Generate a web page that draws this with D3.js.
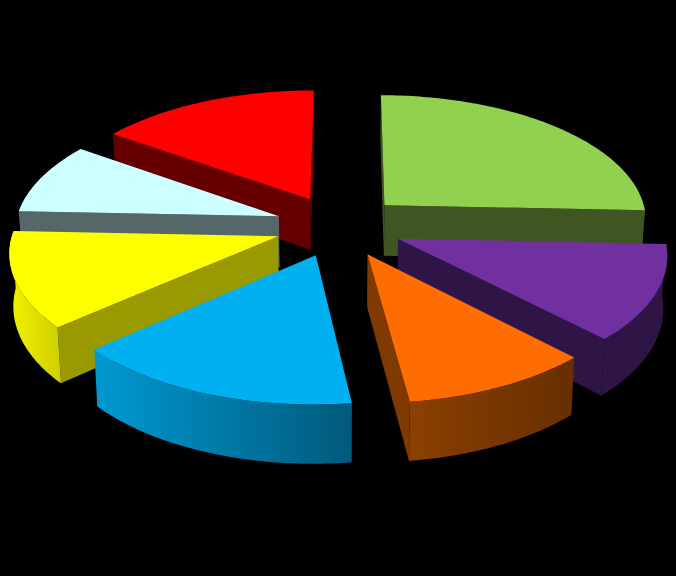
<!DOCTYPE html>
<html>
<head>
<meta charset="utf-8">
<script src="https://cdn.jsdelivr.net/npm/d3@7"></script>
<style>
  html, body { margin: 0; background: #000; }
  svg { display: block; }
</style>
</head>
<body>
<svg id="chart" width="676" height="576"></svg>
<script>
// slices, clockwise from the top
const categories = ['green', 'purple', 'orange', 'blue', 'yellow', 'cyan', 'red'];
const values = [25.6, 12.1, 10.2, 15.6, 12.1, 9.1, 15.3];

const topColors = ['#92d050', '#7030a0', '#ff6c00', '#00b0f0', '#ffff00', '#ccffff', '#ff0000'];
const wallColors = ['#3f5522', '#2f1545', '#7e3a00', '#00607f', '#999900', '#566769', '#660000'];
const outerLeft = ['#3f5522', '#2f1545', '#8a4000', '#0099d1', '#f2f200', '#566769', '#660000'];
const outerRight = ['#3f5522', '#2f1545', '#682e00', '#005a7c', '#d2d200', '#566769', '#660000'];

const width = 676, height = 576;
const cx = 339, cy = 226;
const radius = 264, explode = 64, depth = 51.5;
const tilt = 0.478, persp = 0.000409, converge = 0.012;
const startDeg = 0.2;

// pie plane -> screen, z is 0 on top and 1 at the bottom
function project(u, v, z) {
  const s = 1 / (1 - persp * v);
  return [
    cx + u * s * (1 - converge * z),
    cy + (tilt * v + depth * z) * s,
  ];
}

const line = d3.line();
const svg = d3.select('#chart');
const defs = svg.append('defs');

const start = (startDeg * Math.PI) / 180;
const pie = d3.pie().sort(null).startAngle(start).endAngle(start + 2 * Math.PI);
const slices = pie(values).map((d, i) => {
  const mid = (d.startAngle + d.endAngle) / 2;
  return {
    ...d,
    i,
    mid,
    ox: explode * Math.sin(mid),
    oy: -explode * Math.cos(mid),
  };
});

function arcPoints(d, a0, a1, z) {
  const n = Math.max(2, Math.ceil((a1 - a0) * 60));
  return d3.range(n + 1).map((k) => {
    const a = a0 + ((a1 - a0) * k) / n;
    return project(d.ox + radius * Math.sin(a), d.oy - radius * Math.cos(a), z);
  });
}

// back slices first so the front ones cover them
slices
  .slice()
  .sort((a, b) => -Math.cos(a.mid) - -Math.cos(b.mid))
  .forEach((d) => {
    const g = svg.append('g').attr('class', categories[d.i]);
    const apexTop = project(d.ox, d.oy, 0);
    const apexBottom = project(d.ox, d.oy, 1);

    // the two straight walls, only when they face us
    [d.startAngle, d.endAngle].forEach((a, side) => {
      const edgeTop = arcPoints(d, a, a + 0.001, 0)[0];
      const edgeBottom = arcPoints(d, a, a + 0.001, 1)[0];
      const pts = [apexTop, edgeTop, edgeBottom, apexBottom];
      const facing = side === 0 ? d3.polygonArea(pts) > 0 : d3.polygonArea(pts) < 0;
      if (facing) {
        g.append('path')
          .attr('d', line(pts) + 'Z')
          .attr('fill', wallColors[d.i]);
      }
    });

    // rim, front half of the circle only
    const a0 = Math.max(d.startAngle, Math.PI / 2);
    const a1 = Math.min(d.endAngle, (3 * Math.PI) / 2);
    if (a1 > a0) {
      const rimTop = arcPoints(d, a0, a1, 0);
      const rimBottom = arcPoints(d, a0, a1, 1).reverse();
      const xs = d3.extent(rimTop, (p) => p[0]);
      const gradId = `rim-${d.i}`;
      const grad = defs
        .append('linearGradient')
        .attr('id', gradId)
        .attr('gradientUnits', 'userSpaceOnUse')
        .attr('x1', xs[0])
        .attr('x2', xs[1])
        .attr('y1', 0)
        .attr('y2', 0);
      grad.append('stop').attr('offset', 0).attr('stop-color', outerLeft[d.i]);
      grad.append('stop').attr('offset', 1).attr('stop-color', outerRight[d.i]);
      g.append('path')
        .attr('d', line(rimTop.concat(rimBottom)) + 'Z')
        .attr('fill', `url(#${gradId})`);
    }

    // top face
    g.append('path')
      .attr('d', line([apexTop].concat(arcPoints(d, d.startAngle, d.endAngle, 0))) + 'Z')
      .attr('fill', topColors[d.i]);
  });
</script>
</body>
</html>
